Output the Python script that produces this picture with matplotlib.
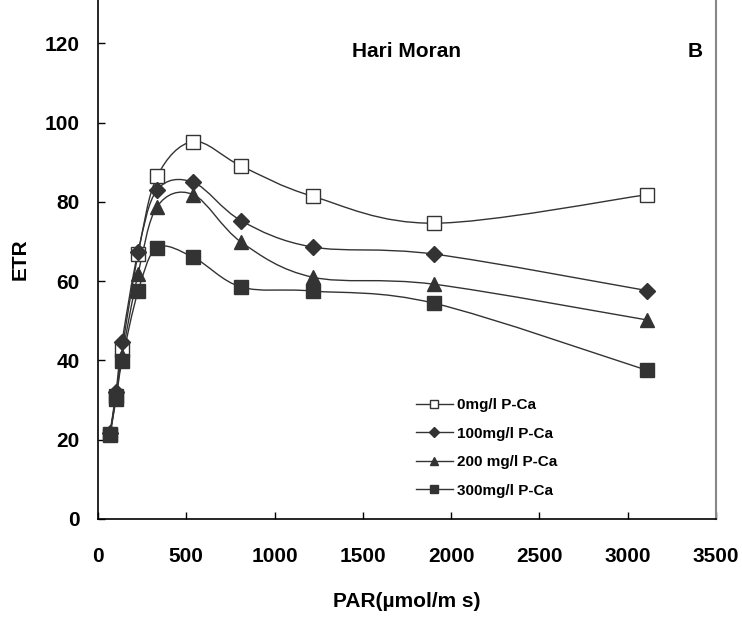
import numpy as np
import matplotlib
matplotlib.use('Agg')
import matplotlib.pyplot as plt
from matplotlib.path import Path
from matplotlib.patches import PathPatch
from matplotlib.lines import Line2D

# ---------------------------
# Data
# ---------------------------
par = [68, 102, 136, 227, 335, 540, 812, 1215, 1905, 3110]

etr_0 = [21.5, 31.0, 42.6, 66.8, 86.4, 95.2, 89.0, 81.4, 74.6, 81.8]
etr_100 = [21.8, 32.0, 44.6, 67.4, 83.0, 84.9, 75.2, 68.6, 66.8, 57.6]
etr_200 = [21.5, 31.0, 41.0, 61.8, 78.8, 81.8, 69.8, 61.0, 59.2, 50.2]
etr_300 = [21.2, 30.2, 39.8, 57.4, 68.4, 66.0, 58.5, 57.5, 54.4, 37.5]

labels = ['0mg/l P-Ca', '100mg/l P-Ca', '200 mg/l P-Ca', '300mg/l P-Ca']

DARK = '#333333'
FONT = 'Liberation Sans'


def smooth_path(x, y):
    """Excel-like smoothed line: Catmull-Rom segments as cubic Beziers."""
    pts = np.column_stack([x, y]).astype(float)
    n = len(pts)
    verts = [pts[0]]
    codes = [Path.MOVETO]
    for i in range(n - 1):
        p0 = pts[i - 1] if i > 0 else pts[i]
        p1 = pts[i]
        p2 = pts[i + 1]
        p3 = pts[i + 2] if i + 2 < n else pts[i + 1]
        c1 = p1 + (p2 - p0) / 6.0
        c2 = p2 - (p3 - p1) / 6.0
        verts += [c1, c2, p2]
        codes += [Path.CURVE4] * 3
    return Path(verts, codes)


fig = plt.figure(figsize=(7.42, 6.21), dpi=100)
ax = fig.add_axes([98 / 742, 1 - 519 / 621, (716 - 98) / 742, 519 / 621])

series = [
    (etr_0, 's', 'white', 9.5),
    (etr_100, 'D', DARK, 8.5),
    (etr_200, '^', DARK, 10.5),
    (etr_300, 's', DARK, 9.5),
]

handles = []
for (vals, mk, fc, ms), lab in zip(series, labels):
    ax.add_patch(PathPatch(smooth_path(par, vals), facecolor='none',
                           edgecolor=DARK, lw=1.0, zorder=2))
    ax.plot(par, vals, linestyle='none', marker=mk, markersize=ms,
            markerfacecolor=fc, markeredgecolor=DARK, markeredgewidth=1.0,
            zorder=3)
    handles.append(Line2D([], [], color=DARK, lw=1.0, marker=mk,
                          markersize=ms, markerfacecolor=fc,
                          markeredgecolor=DARK, markeredgewidth=1.0, label=lab))

ax.set_xlim(0, 3500)
ax.set_ylim(0, 130.9)
ax.set_xticks(range(0, 3501, 500))
ax.set_yticks(range(0, 121, 20))

ax.spines['top'].set_visible(False)
ax.spines['right'].set_color('#888888')
ax.spines['right'].set_linewidth(1.5)
ax.spines['left'].set_linewidth(1.2)
ax.spines['bottom'].set_linewidth(1.2)

ax.tick_params(axis='both', direction='in', length=5, width=1, color='black')
ax.tick_params(axis='y', pad=13)
ax.tick_params(axis='x', pad=20)
for lbl in ax.get_xticklabels() + ax.get_yticklabels():
    lbl.set_fontfamily(FONT)
    lbl.set_fontweight('bold')
    lbl.set_fontsize(15)

ax.set_xlabel('PAR(\u00b5mol/m s)', fontfamily=FONT, fontweight='bold',
              fontsize=15, labelpad=19)
ax.set_ylabel('ETR', fontfamily=FONT, fontweight='bold', fontsize=15,
              labelpad=11)

ax.text(0.5, 118, 'Hari Moran', transform=ax.get_yaxis_transform(),
        ha='center', va='center', fontfamily=FONT, fontweight='bold',
        fontsize=15)
ax.text(3380, 118, 'B', ha='center', va='center', fontfamily=FONT,
        fontweight='bold', fontsize=15)

leg = ax.legend(handles=handles, loc='upper left', frameon=False,
                bbox_to_anchor=(416 / 742, 1 - 398 / 621),
                bbox_transform=fig.transFigure, borderaxespad=0,
                borderpad=0, markerscale=0.6, handlelength=2.4,
                handletextpad=0.3, labelspacing=0.95,
                prop={'family': FONT, 'weight': 'bold', 'size': 11})

fig.savefig('out.png', dpi=100)
